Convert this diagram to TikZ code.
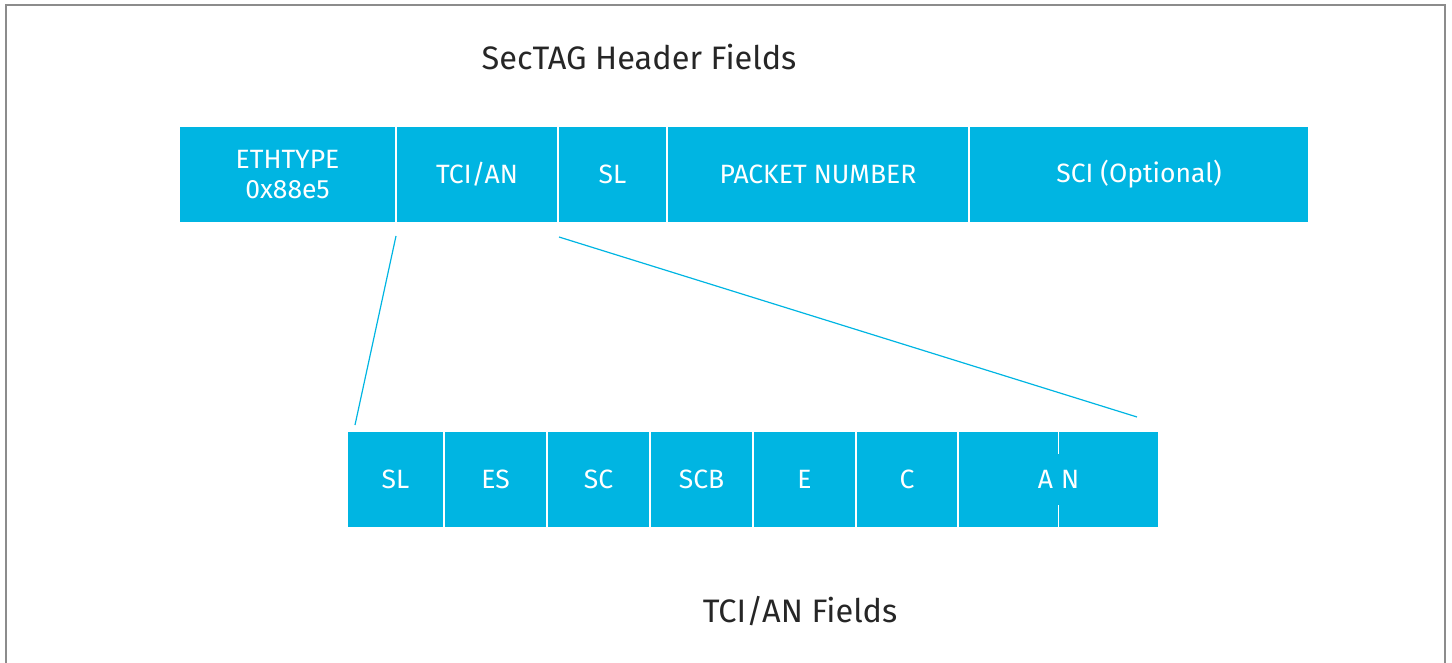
\documentclass[tikz,border=0pt]{standalone}
\usepackage{fontspec}
\setmainfont{Fira Sans}
\usetikzlibrary{calc}
\definecolor{cy}{HTML}{00B5E2}
\definecolor{frame}{HTML}{8C8C8C}
\begin{document}
\begin{tikzpicture}[x=1pt,y=-1pt,
  cell/.style={draw=white,line width=1.5pt,fill=cy,text=white,inner sep=0pt,
    minimum height=97pt,font=\fontsize{26.5}{30}\selectfont,align=center},
  lnk/.style={draw=cy,line width=1.2pt},
  ttl/.style={font=\fontsize{32.5}{38}\selectfont,text=black!85}]
\useasboundingbox (0,0) rectangle (1452,663);
\draw[frame,line width=2pt] (6,663) -- (6,5) -- (1445,5) -- (1445,663);
\node[ttl] (t1) at (639,57) {SecTAG Header Fields};
\node[ttl] (t2) at (800,611) {TCI/AN Fields};
% top row
\node[cell,minimum width=217pt] (eth) at (287.5,174.5) {ETHTYPE\\0x88e5};
\node[cell,minimum width=162pt] (tci) at (477,174.5) {TCI/AN};
\node[cell,minimum width=109pt] (sl) at (612.5,174.5) {SL};
\node[cell,minimum width=302pt] (pn) at (818,174.5) {PACKET NUMBER};
\node[cell,minimum width=340pt] (sci) at (1139,174.5) {SCI (Optional)};
% bottom row
\node[cell,minimum width=97pt] (bsl) at (395.5,479.5) {SL};
\node[cell,minimum width=103pt] (bes) at (495.5,479.5) {ES};
\node[cell,minimum width=103pt] (bsc) at (598.5,479.5) {SC};
\node[cell,minimum width=103pt] (bscb) at (701.5,479.5) {SCB};
\node[cell,minimum width=103pt] (be) at (804.5,479.5) {E};
\node[cell,minimum width=102pt] (bc) at (907,479.5) {C};
\node[cell,minimum width=201pt] (ban) at (1058.5,479.5) {A\hspace{0.3em}N};
\draw[white,line width=1.5pt] (ban.north) -- ++(0,24);
\draw[white,line width=1.5pt] (ban.south) -- ++(0,-24);
% connectors
\coordinate (a1) at (396,236);
\coordinate (a2) at (355,425);
\coordinate (b1) at (559,237);
\coordinate (b2) at (1137,417);
\draw[lnk] (a1) -- (a2);
\draw[lnk] (b1) -- (b2);
\end{tikzpicture}
\end{document}
